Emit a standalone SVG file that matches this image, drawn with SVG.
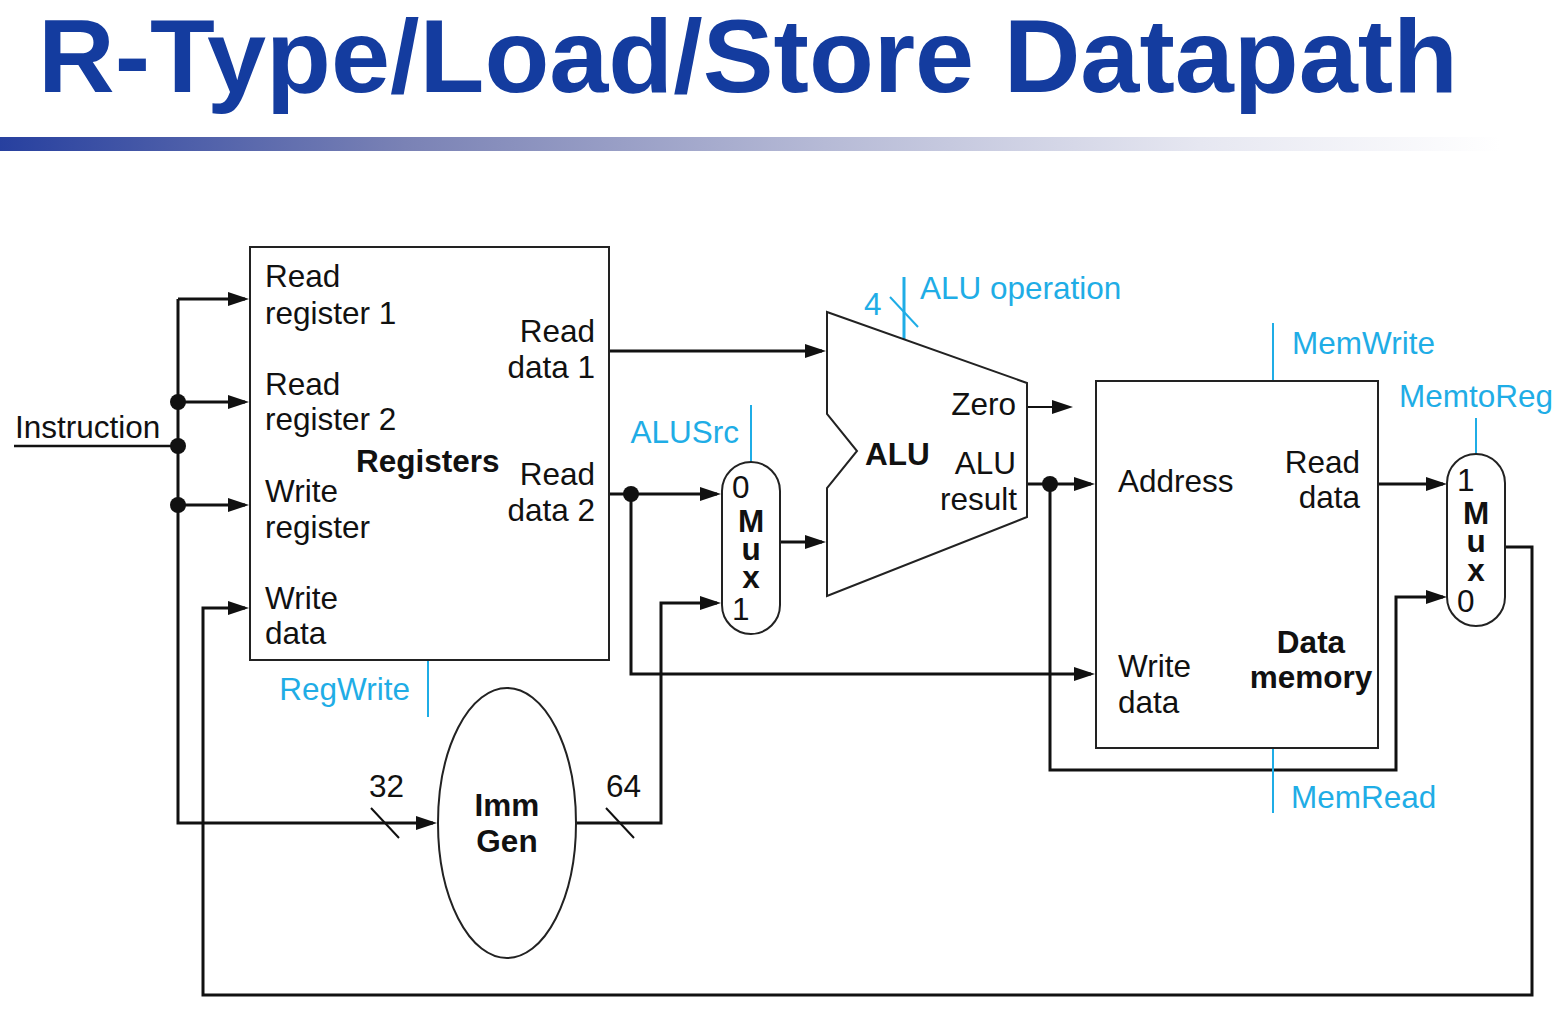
<svg xmlns="http://www.w3.org/2000/svg" width="1564" height="1024" viewBox="0 0 1564 1024">
<style>
text{font-family:"Liberation Sans",Arial,sans-serif;font-size:31.5px;fill:#111}
.b{font-weight:bold}
.c{fill:#1fade6}
.m{text-anchor:middle}
.e{text-anchor:end}
.w{fill:none;stroke:#111;stroke-width:3}
.s{fill:#fff;stroke:#222;stroke-width:2}
.cl{fill:none;stroke:#1fade6;stroke-width:2}
.t{fill:none;stroke:#111;stroke-width:2}
</style>
<defs>
<marker id="a" markerUnits="userSpaceOnUse" markerWidth="24" markerHeight="16" refX="17" refY="7" orient="auto"><path d="M0 0L21 7L0 14z" fill="#111"/></marker>
<linearGradient id="g" x1="0" x2="1" y1="0" y2="0"><stop offset="0" stop-color="#27409f"/><stop offset="0.27" stop-color="#7a82b5"/><stop offset="0.55" stop-color="#b6bad6"/><stop offset="0.8" stop-color="#e6e7f1"/><stop offset="1" stop-color="#ffffff"/></linearGradient>
</defs>
<g id="title">
<text x="38" y="92" textLength="1420" lengthAdjust="spacingAndGlyphs" style="font-size:103px;font-weight:bold;fill:#143c9f">R-Type/Load/Store Datapath</text>
<rect x="0" y="137" width="1500" height="14" fill="url(#g)"/>
</g>
<g id="connectors">
<path class="w" d="M14 446H178" style="stroke-width:2.5"/>
<path class="w" d="M178 299V823H433" marker-end="url(#a)"/>
<path class="w" d="M178 299H245" marker-end="url(#a)"/>
<path class="w" d="M178 402H245" marker-end="url(#a)"/>
<path class="w" d="M178 505H245" marker-end="url(#a)"/>
<path class="w" d="M1505 547H1532V995H203V608H245" marker-end="url(#a)"/>
<path class="w" d="M610 351H822" marker-end="url(#a)"/>
<path class="w" d="M610 494H717" marker-end="url(#a)"/>
<path class="w" d="M631 494V674H1091" marker-end="url(#a)"/>
<path class="w" d="M780 542H822" marker-end="url(#a)"/>
<path class="w" d="M576 823H661V603H717" marker-end="url(#a)"/>
<path class="w" d="M1027 407H1069" style="stroke-width:2" marker-end="url(#a)"/>
<path class="w" d="M1027 484H1091" marker-end="url(#a)"/>
<path class="w" d="M1050 484V770H1396V597H1443" marker-end="url(#a)"/>
<path class="w" d="M1378 484H1443" marker-end="url(#a)"/>
<path class="t" d="M371 808L399 838M606 808L634 838"/>
<path class="cl" d="M890 297L918 327" />
<path class="cl" d="M904 277V340" style="stroke-width:3"/>
<path class="cl" d="M428 660V717M751 405V462M1273 323V381M1273 748V813M1476 418V454"/>
<g fill="#111"><circle cx="178" cy="402" r="8"/><circle cx="178" cy="446" r="8"/><circle cx="178" cy="505" r="8"/><circle cx="631" cy="494" r="8"/><circle cx="1050" cy="484" r="8"/></g>
</g>
<g id="registers">
<rect class="s" x="250" y="247" width="359" height="413"/>
<text x="265" y="287">Read</text><text x="265" y="324">register 1</text>
<text x="265" y="395">Read</text><text x="265" y="430">register 2</text>
<text x="265" y="502">Write</text><text x="265" y="538">register</text>
<text x="265" y="609">Write</text><text x="265" y="644">data</text>
<text class="e" x="595" y="342">Read</text><text class="e" x="595" y="378">data 1</text>
<text class="e" x="595" y="485">Read</text><text class="e" x="595" y="521">data 2</text>
<text class="b" x="356" y="472">Registers</text>
</g>
<g id="regwrite"><text class="c e" x="410" y="700">RegWrite</text></g>
<g id="instruction"><text x="15" y="438">Instruction</text></g>
<g id="alu">
<path class="s" d="M827 312L1027 383V517L827 596V488L857 451L827 414Z"/>
<text class="b" x="865" y="465">ALU</text>
<text class="e" x="1016" y="415">Zero</text>
<text class="e" x="1016" y="474">ALU</text><text class="e" x="1017" y="510">result</text>
</g>
<g id="aluop"><text class="c" x="864" y="315">4</text><text class="c" x="920" y="299">ALU operation</text></g>
<g id="alusrc-mux">
<rect class="s" x="722" y="462" width="58" height="172" rx="29" ry="29"/>
<text x="732" y="498">0</text><text x="732" y="620">1</text>
<text class="b m"><tspan x="751" y="532">M</tspan><tspan x="751" y="560">u</tspan><tspan x="751" y="588">x</tspan></text>
</g>
<g id="alusrc"><text class="c e" x="739" y="443">ALUSrc</text></g>
<g id="memory">
<rect class="s" x="1096" y="381" width="282" height="367"/>
<text x="1118" y="492">Address</text>
<text class="e" x="1360" y="473">Read</text><text class="e" x="1360" y="508">data</text>
<text x="1118" y="677">Write</text><text x="1118" y="713">data</text>
<text class="b m" x="1311" y="653">Data</text><text class="b m" x="1311" y="688">memory</text>
</g>
<g id="memwrite"><text class="c" x="1292" y="354">MemWrite</text></g>
<g id="memread"><text class="c" x="1291" y="808">MemRead</text></g>
<g id="memtoreg-mux">
<rect class="s" x="1447" y="454" width="58" height="172" rx="29" ry="29"/>
<text x="1457" y="491">1</text><text x="1457" y="612">0</text>
<text class="b m"><tspan x="1476" y="524">M</tspan><tspan x="1476" y="552">u</tspan><tspan x="1476" y="581">x</tspan></text>
</g>
<g id="memtoreg"><text class="c" x="1399" y="407">MemtoReg</text></g>
<g id="immgen">
<ellipse class="s" cx="507" cy="823" rx="69" ry="135"/>
<text class="b m" x="507" y="816">Imm</text><text class="b m" x="507" y="852">Gen</text>
</g>
<g id="width32"><text x="369" y="797">32</text></g>
<g id="width64"><text x="606" y="797">64</text></g>
</svg>
